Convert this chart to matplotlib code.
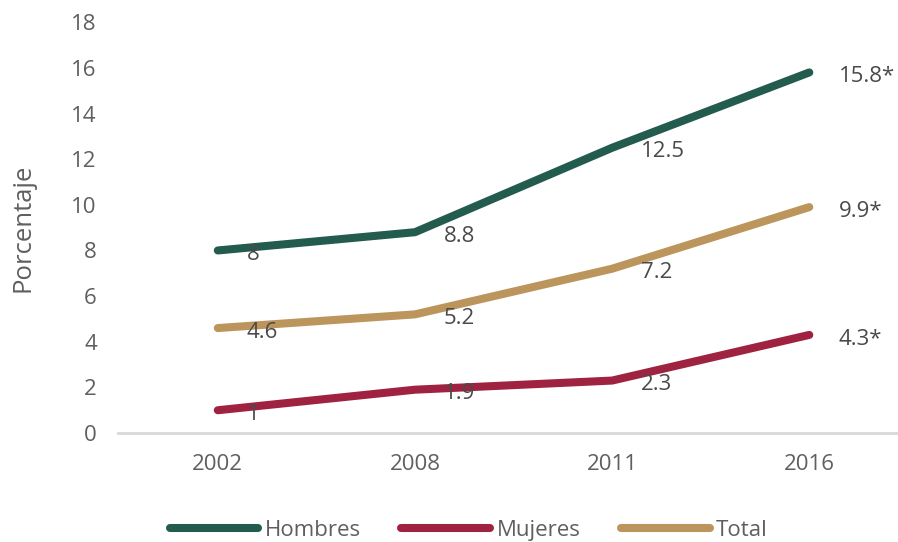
import matplotlib
matplotlib.use("Agg")
import matplotlib.pyplot as plt

years = ["2002", "2008", "2011", "2016"]
hombres = [8, 8.8, 12.5, 15.8]
mujeres = [1, 1.9, 2.3, 4.3]
total = [4.6, 5.2, 7.2, 9.9]
hombres_lbl = ["8", "8.8", "12.5", "15.8*"]
mujeres_lbl = ["1", "1.9", "2.3", "4.3*"]
total_lbl = ["4.6", "5.2", "7.2", "9.9*"]
yticks = [0, 2, 4, 6, 8, 10, 12, 14, 16, 18]

plt.rcParams['font.family'] = ['Open Sans', 'DejaVu Sans']
gray = "#5f5f5f"

fig = plt.figure(figsize=(8.98, 5.42), dpi=100)
ax = fig.add_axes([0.131, 0.201, 0.869, 0.758])

x = list(range(len(years)))
series = [
    (hombres, hombres_lbl, "#235B4E", "Hombres"),
    (mujeres, mujeres_lbl, "#9F2241", "Mujeres"),
    (total, total_lbl, "#BC955C", "Total"),
]
for vals, lbls, col, name in series:
    ax.plot(x, vals, color=col, lw=5.8, label=name,
            solid_joinstyle="round", solid_capstyle="round")
    for xi, v, t in zip(x, vals, lbls):
        ax.annotate(t, (xi, v), xytext=(21, -3), textcoords="offset points",
                    ha="left", va="center", fontsize=16, color="#4a4a4a")

ax.set_xlim(-0.508, 3.45)
ax.set_ylim(0, 18)
ax.set_xticks(x)
ax.set_xticklabels(years)
ax.set_yticks(yticks)
ax.tick_params(axis="both", length=0, labelsize=16, colors=gray, pad=15)
for s in ["top", "right", "left"]:
    ax.spines[s].set_visible(False)
ax.spines["bottom"].set_color("#d9d9d9")
ax.spines["bottom"].set_linewidth(2)
ax.set_ylabel("Porcentaje", fontsize=18.5, color=gray)
ax.yaxis.set_label_coords(-0.105, 0.5)

fig.legend(loc="center", bbox_to_anchor=(0.522, 0.022), ncol=3, frameon=False,
           fontsize=16, labelcolor=gray, handlelength=4.0, handletextpad=0.3,
           columnspacing=1.8)

fig.savefig("out.png", dpi=100)
